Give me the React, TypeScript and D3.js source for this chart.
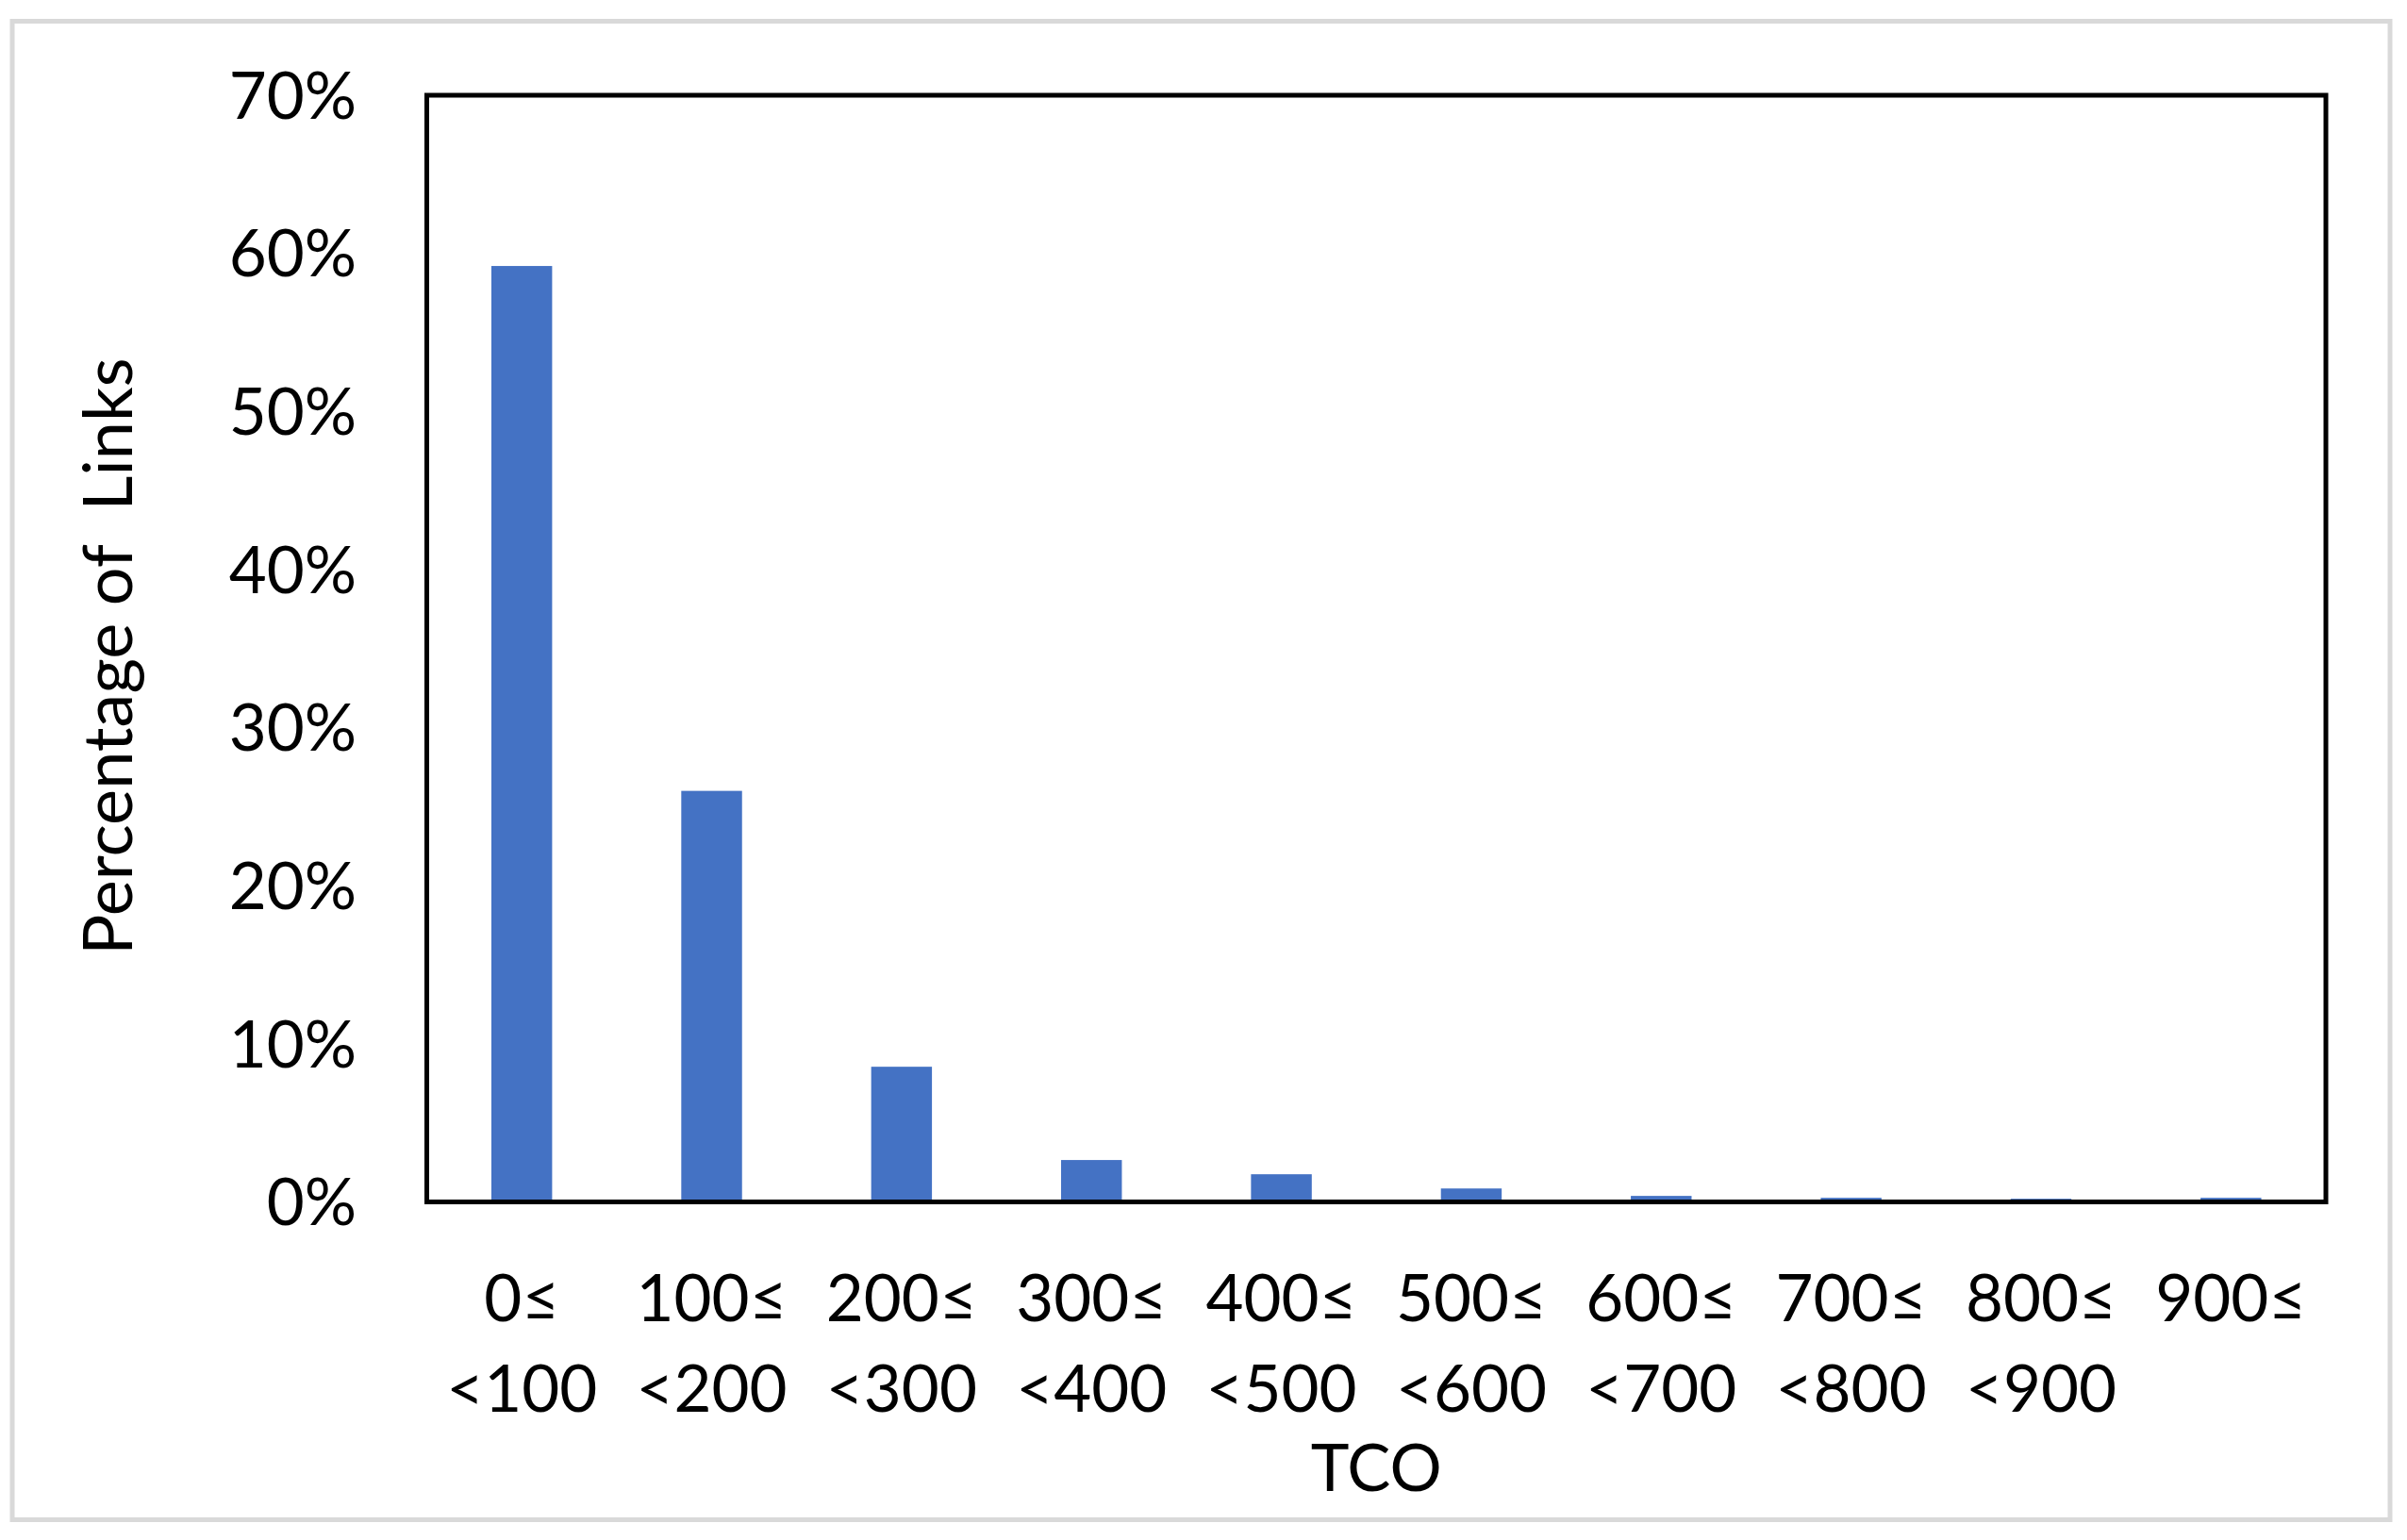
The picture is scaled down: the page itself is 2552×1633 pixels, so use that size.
import React from "react";
import * as d3 from "d3";

const lowerBounds = ["0≤", "100≤", "200≤", "300≤", "400≤", "500≤", "600≤", "700≤", "800≤", "900≤"];
const upperBounds = ["<100", "<200", "<300", "<400", "<500", "<600", "<700", "<800", "<900", ""];
const percentages = [59.2, 26.0, 8.55, 2.65, 1.75, 0.85, 0.38, 0.26, 0.2, 0.26];
const yTicks = [0, 10, 20, 30, 40, 50, 60, 70];

const W = 2552;
const H = 1633;
const plot = { left: 452.5, right: 2466, top: 101, bottom: 1274.5 };
const FONT = "Lato, 'Open Sans', sans-serif";

export default function App() {
  const x = d3
    .scaleBand<number>()
    .domain(d3.range(lowerBounds.length))
    .range([plot.left, plot.right])
    .paddingInner(0.68)
    .paddingOuter(0.34);
  const y = d3.scaleLinear().domain([0, 70]).range([plot.bottom, plot.top]);

  return (
    <svg
      width={W}
      height={H}
      style={{ position: "absolute", left: 0, top: 0, background: "#fff" }}
      fontFamily={FONT}
    >
      <rect x={0} y={0} width={W} height={H} fill="#fff" />
      <rect x={13} y={22.5} width={2521} height={1589} fill="none" stroke="#d9d9d9" strokeWidth={5} />
      {percentages.map((v, i) => (
        <rect
          key={i}
          x={x(i)!}
          y={y(v)}
          width={x.bandwidth()}
          height={plot.bottom - y(v)}
          fill="#4472C4"
        />
      ))}
      <rect
        x={plot.left}
        y={plot.top}
        width={plot.right - plot.left}
        height={plot.bottom - plot.top}
        fill="none"
        stroke="#000"
        strokeWidth={5}
      />
      {yTicks.map((t) => (
        <text
          key={t}
          x={378}
          y={y(t)}
          dy="0.36em"
          textAnchor="end"
          fontSize={69}
          fill="#000"
        >
          {t}%
        </text>
      ))}
      {lowerBounds.map((lb, i) => {
        const cx = x(i)! + x.bandwidth() / 2;
        return (
          <g key={i}>
            <text x={cx} y={1401} textAnchor="middle" fontSize={69} fill="#000">
              {lb}
            </text>
            <text x={cx} y={1497} textAnchor="middle" fontSize={69} fill="#000">
              {upperBounds[i]}
            </text>
          </g>
        );
      })}
      <text
        x={(plot.left + plot.right) / 2}
        y={1581}
        textAnchor="middle"
        fontSize={69}
        fill="#000"
      >
        TCO
      </text>
      <text
        transform={`translate(140, 696) rotate(-90)`}
        textAnchor="middle"
        fontSize={72}
        fill="#000"
        style={{ whiteSpace: "pre" }}
      >
        {"Percentage of  Links"}
      </text>
    </svg>
  );
}
